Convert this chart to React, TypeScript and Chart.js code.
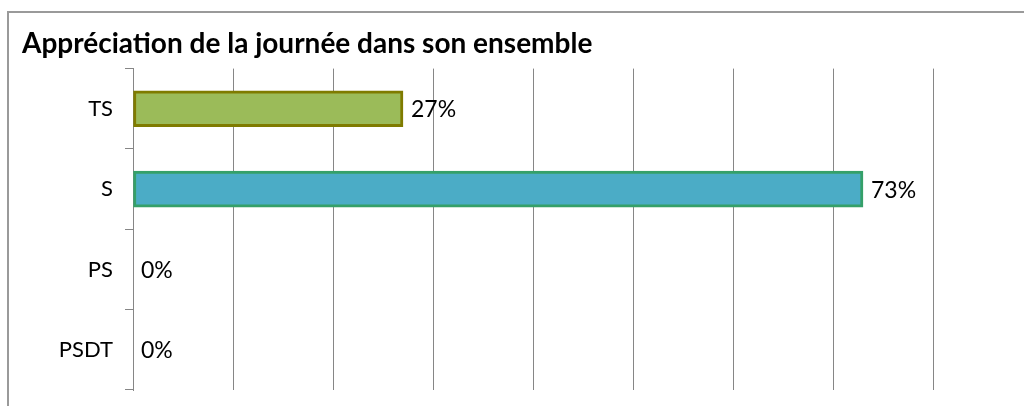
import React, { useEffect, useRef } from "react";
import { Chart, registerables } from "chart.js";

Chart.register(...registerables);

const title = "Appréciation de la journée dans son ensemble";
const categories = ["TS", "S", "PS", "PSDT"];
const values = [27, 73, 0, 0];
const fillColors = ["#9BBB59", "#4BACC6", "#4BACC6", "#4BACC6"];
const borderColors = ["#7F7B00", "#35A069", "#35A069", "#35A069"];
const FONT = "Lato";

const labelPlugin = {
  id: "valueLabels",
  afterDatasetsDraw(chart: any) {
    const ctx = chart.ctx;
    const meta = chart.getDatasetMeta(0);
    ctx.save();
    ctx.font = `23px ${FONT}`;
    ctx.fillStyle = "#000000";
    ctx.textAlign = "left";
    ctx.textBaseline = "middle";
    meta.data.forEach((el: any, i: number) => {
      ctx.fillText(`${values[i]}%`, el.x + 8, el.y + 1);
    });
    ctx.restore();
  },
};

export default function App() {
  const ref = useRef<HTMLCanvasElement>(null);
  useEffect(() => {
    if (!ref.current) return;
    const chart = new Chart(ref.current, {
      type: "bar",
      data: {
        labels: categories,
        datasets: [
          {
            data: values,
            backgroundColor: fillColors,
            borderColor: borderColors,
            borderWidth: 3,
            borderSkipped: false,
            barThickness: 36,
          },
        ],
      },
      options: {
        indexAxis: "y",
        responsive: false,
        animation: false,
        layout: { padding: { left: 22, right: 91, top: 0, bottom: 16 } },
        plugins: {
          legend: { display: false },
          tooltip: { enabled: false },
          title: {
            display: true,
            text: title,
            align: "start",
            color: "#000000",
            font: { family: FONT, size: 28, weight: "bold" },
            padding: { top: 27, bottom: 8 },
          },
        },
        scales: {
          x: {
            min: 0,
            max: 80,
            ticks: { display: false, stepSize: 10 },
            grid: { color: "#868686", drawTicks: false, lineWidth: 1 },
            border: { display: false },
            afterFit: (s: any) => {
              s.height = 0;
              s.paddingLeft = 0;
              s.paddingRight = 0;
            },
          },
          y: {
            type: "category",
            grid: {
              display: true,
              drawOnChartArea: false,
              drawTicks: true,
              tickLength: 8,
              color: "#868686",
              offset: true,
            },
            border: { display: true, color: "#868686" },
            ticks: {
              color: "#000000",
              padding: 12,
              font: { family: FONT, size: 22 },
            },
            afterFit: (s: any) => {
              s.width = 111;
              s.paddingTop = 0;
              s.paddingBottom = 0;
            },
          },
        },
      },
      plugins: [labelPlugin],
    } as any);
    return () => chart.destroy();
  }, []);

  return (
    <div
      style={{
        position: "fixed",
        left: 0,
        top: 0,
        width: 1024,
        height: 406,
        overflow: "hidden",
        background: "#ffffff",
      }}
    >
      <div
        style={{
          position: "absolute",
          left: 7,
          top: 11,
          width: 1100,
          height: 500,
          borderTop: "2px solid #9a9a9a",
          borderLeft: "2px solid #9a9a9a",
          boxSizing: "border-box",
        }}
      />
      <canvas
        ref={ref}
        width={1024}
        height={406}
        style={{ position: "absolute", left: 0, top: 0, width: 1024, height: 406 }}
      />
    </div>
  );
}
